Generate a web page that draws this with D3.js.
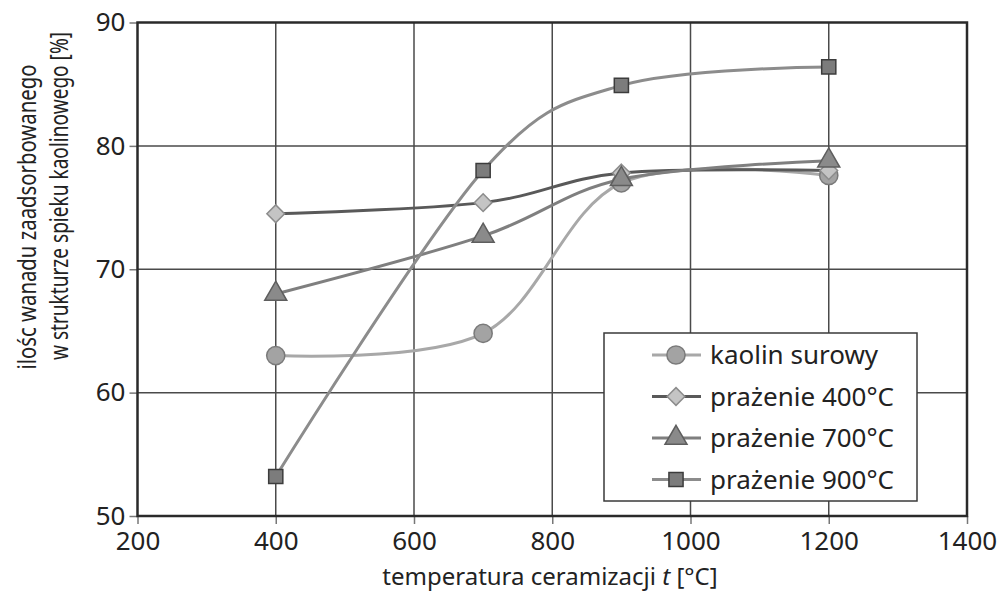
<!DOCTYPE html>
<html>
<head>
<meta charset="utf-8">
<script src="https://cdn.jsdelivr.net/npm/d3@7"></script>
<style>
  body { margin: 0; background: #fff; }
  text { font-family: "Noto Sans", sans-serif; fill: #222; }
</style>
</head>
<body>
<div id="chart"></div>
<script>
// temperatures of ceramization (x) and the four series (y, %)
const temps = [400, 700, 900, 1200];
const kaolinSurowy = [63.0, 64.8, 77.0, 77.6];
const prazenie400 = [74.5, 75.4, 77.8, 78.0];
const prazenie700 = [68.0, 72.7, 77.3, 78.8];
const prazenie900 = [53.2, 78.0, 84.9, 86.4];

const xTicks = [200, 400, 600, 800, 1000, 1200, 1400];
const yTicks = [50, 60, 70, 80, 90];

const seriesNames = ["kaolin surowy", "prażenie 400°C", "prażenie 700°C", "prażenie 900°C"];
const seriesValues = [kaolinSurowy, prazenie400, prazenie700, prazenie900];

const styles = [
  { line: "#a8a8a8", fill: "#a3a3a3", stroke: "#7a7a7a", symbol: d3.symbolCircle, size: 260 },
  { line: "#595959", fill: "#c4c4c4", stroke: "#8c8c8c", symbol: d3.symbolDiamond2, size: 200 },
  { line: "#7f7f7f", fill: "#8a8a8a", stroke: "#5e5e5e", symbol: d3.symbolTriangle, size: 210 },
  { line: "#8c8c8c", fill: "#7c7c7c", stroke: "#3c3c3c", symbol: d3.symbolSquare, size: 200 }
];

const dims = { width: 997, height: 598 };
const margin = { top: 22.5, right: 30, bottom: 82, left: 137.5 };
const w = dims.width - margin.left - margin.right;
const h = dims.height - margin.top - margin.bottom;

const svg = d3.select("#chart").append("svg")
  .attr("width", dims.width)
  .attr("height", dims.height);

const g = svg.append("g")
  .attr("transform", `translate(${margin.left},${margin.top})`);

const x = d3.scaleLinear().domain([200, 1400]).range([0, w]);
const y = d3.scaleLinear().domain([50, 90]).range([h, 0]);

// grid
g.append("g").selectAll("line")
  .data(xTicks.slice(1, -1))
  .join("line")
  .attr("x1", d => x(d)).attr("x2", d => x(d))
  .attr("y1", 0).attr("y2", h)
  .attr("stroke", "#4a4a4a").attr("stroke-width", 1.5);

g.append("g").selectAll("line")
  .data(yTicks.slice(1, -1))
  .join("line")
  .attr("x1", 0).attr("x2", w)
  .attr("y1", d => y(d)).attr("y2", d => y(d))
  .attr("stroke", "#4a4a4a").attr("stroke-width", 1.5);

// axes
const xAxis = d3.axisBottom(x).tickValues(xTicks).tickFormat(d3.format("d")).tickSize(8).tickPadding(6);
const yAxis = d3.axisLeft(y).tickValues(yTicks).tickFormat(d3.format("d")).tickSize(8).tickPadding(4);

const xg = g.append("g").attr("transform", `translate(0,${h})`).call(xAxis);
const yg = g.append("g").call(yAxis);
[xg, yg].forEach(a => {
  a.select(".domain").remove();
  a.selectAll(".tick line").attr("stroke", "#777").attr("stroke-width", 1.5);
  a.selectAll(".tick text").attr("font-size", 26).attr("fill", "#222")
    .attr("font-family", "Noto Sans");
});
xg.selectAll(".tick text").attr("dy", "0.75em");

// frame
g.append("rect")
  .attr("width", w).attr("height", h)
  .attr("fill", "none")
  .attr("stroke", "#2a2a2a").attr("stroke-width", 2.5);

// curves
const line = d3.line()
  .x((d, i) => x(temps[i]))
  .y(d => y(d))
  .curve(d3.curveCardinal.tension(0));

seriesValues.forEach((vals, k) => {
  g.append("path")
    .datum(vals)
    .attr("d", line)
    .attr("fill", "none")
    .attr("stroke", styles[k].line)
    .attr("stroke-width", 3);
});

seriesValues.forEach((vals, k) => {
  const s = styles[k];
  g.append("g").selectAll("path")
    .data(vals)
    .join("path")
    .attr("transform", (d, i) => `translate(${x(temps[i])},${y(d)})`)
    .attr("d", d3.symbol().type(s.symbol).size(s.size))
    .attr("fill", s.fill)
    .attr("stroke", s.stroke)
    .attr("stroke-width", 1.5);
});

// legend
const legend = svg.append("g").attr("transform", "translate(604,333)");
legend.append("rect")
  .attr("width", 313).attr("height", 168)
  .attr("fill", "#fff")
  .attr("stroke", "#3a3a3a").attr("stroke-width", 1.5);

const rows = legend.selectAll("g.row")
  .data(seriesNames)
  .join("g")
  .attr("class", "row")
  .attr("transform", (d, i) => `translate(0,${22 + i * 41.5})`);

rows.append("line")
  .attr("x1", 48).attr("x2", 97)
  .attr("stroke", (d, i) => styles[i].line)
  .attr("stroke-width", 3);

rows.append("path")
  .attr("transform", "translate(72,0)")
  .attr("d", (d, i) => d3.symbol().type(styles[i].symbol).size(styles[i].size)())
  .attr("fill", (d, i) => styles[i].fill)
  .attr("stroke", (d, i) => styles[i].stroke)
  .attr("stroke-width", 1.5);

rows.append("text")
  .attr("x", 106)
  .attr("dy", "0.35em")
  .attr("font-size", 26)
  .text(d => d);

// axis titles
const xt = svg.append("text")
  .attr("x", 550)
  .attr("y", 585)
  .attr("text-anchor", "middle")
  .attr("font-size", 24);
xt.append("tspan").text("temperatura ceramizacji ");
xt.append("tspan").attr("font-style", "italic").text("t");
xt.append("tspan").text(" [°C]");

svg.append("text")
  .attr("transform", "translate(36,217) rotate(-90)")
  .attr("text-anchor", "middle")
  .attr("font-size", 25)
  .attr("textLength", 305)
  .attr("lengthAdjust", "spacingAndGlyphs")
  .text("ilośc wanadu zaadsorbowanego");

svg.append("text")
  .attr("transform", "translate(68,196) rotate(-90)")
  .attr("text-anchor", "middle")
  .attr("font-size", 25)
  .attr("textLength", 328)
  .attr("lengthAdjust", "spacingAndGlyphs")
  .text("w strukturze spieku kaolinowego [%]");
</script>
</body>
</html>
